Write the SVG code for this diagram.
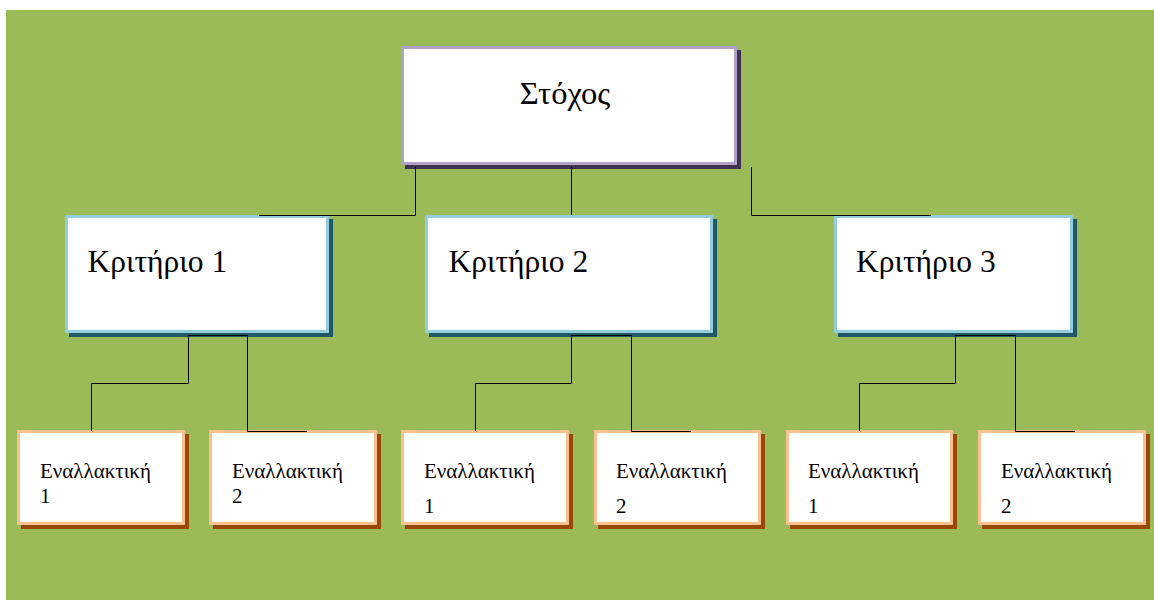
<svg xmlns="http://www.w3.org/2000/svg" width="1154" height="600" viewBox="0 0 1154 600">
<style>
.bg{fill:#9BBB59}
.box{fill:#FFFFFF;stroke-width:3}
.goal{stroke:#B2A1C7}
.goal-sh{fill:#3F3151}
.crit{stroke:#92CDDC}
.crit-sh{fill:#215868}
.alt{stroke:#FAC090}
.alt-sh{fill:#984807}
.big{font-size:31.5px}
.title{font-size:32.5px}
.small{font-size:21px}
.conn path{fill:none;stroke:#000000;stroke-width:1}
</style>
<rect x="0" y="0" width="1154" height="600" fill="#FFFFFF"/>
<rect class="bg" x="6" y="10" width="1148" height="590"/>

<g font-family="Liberation Serif, DejaVu Serif, serif" fill="#000000">
<g id="goal">
<rect class="goal-sh" x="405" y="50" width="336" height="119"/>
<rect class="box goal" x="402.5" y="47.5" width="333" height="116"/>
<text class="title" x="565" y="104" text-anchor="middle">Στόχος</text>
</g>

<g id="crit1">
<rect class="crit-sh" x="69" y="219" width="264" height="118"/>
<rect class="box crit" x="66.5" y="216.5" width="261" height="115"/>
<text class="big" x="87.5" y="272">Κριτήριο 1</text>
</g>
<g id="crit2">
<rect class="crit-sh" x="429" y="219" width="288" height="118"/>
<rect class="box crit" x="426.5" y="216.5" width="285" height="115"/>
<text class="big" x="448.5" y="272">Κριτήριο 2</text>
</g>
<g id="crit3">
<rect class="crit-sh" x="838" y="219" width="239" height="118"/>
<rect class="box crit" x="835.5" y="216.5" width="236" height="115"/>
<text class="big" x="856" y="272">Κριτήριο 3</text>
</g>

<g id="alt1-1">
<rect class="alt-sh" x="21" y="434" width="168" height="95"/>
<rect class="box alt" x="18.5" y="431.5" width="165" height="92"/>
<text class="small" x="40" y="478">Εναλλακτική</text>
<text class="small" x="40" y="503">1</text>
</g>
<g id="alt1-2">
<rect class="alt-sh" x="213" y="434" width="168" height="95"/>
<rect class="box alt" x="210.5" y="431.5" width="165" height="92"/>
<text class="small" x="232" y="478">Εναλλακτική</text>
<text class="small" x="232" y="503">2</text>
</g>
<g id="alt2-1">
<rect class="alt-sh" x="405" y="434" width="168" height="95"/>
<rect class="box alt" x="402.5" y="431.5" width="165" height="92"/>
<text class="small" x="424" y="478">Εναλλακτική</text>
<text class="small" x="424" y="513">1</text>
</g>
<g id="alt2-2">
<rect class="alt-sh" x="598" y="434" width="167" height="95"/>
<rect class="box alt" x="595.5" y="431.5" width="164" height="92"/>
<text class="small" x="616" y="478">Εναλλακτική</text>
<text class="small" x="616" y="513">2</text>
</g>
<g id="alt3-1">
<rect class="alt-sh" x="790" y="434" width="167" height="95"/>
<rect class="box alt" x="787.5" y="431.5" width="164" height="92"/>
<text class="small" x="808" y="478">Εναλλακτική</text>
<text class="small" x="808" y="513">1</text>
</g>
<g id="alt3-2">
<rect class="alt-sh" x="982" y="434" width="168" height="95"/>
<rect class="box alt" x="979.5" y="431.5" width="165" height="92"/>
<text class="small" x="1001" y="478">Εναλλακτική</text>
<text class="small" x="1001" y="513">2</text>
</g>
</g>

<g id="connectors" class="conn">
<path d="M415.5 167 V215.5 H259"/>
<path d="M571.5 167 V215"/>
<path d="M751.5 167 V215.5 H931"/>
<path d="M188 335.5 H247.5"/>
<path d="M188.5 335.5 V383.5 H91.5 V431"/>
<path d="M247.5 335.5 V431.5 H307"/>
<path d="M571 335.5 H631.5"/>
<path d="M571.5 335.5 V383.5 H475.5 V431"/>
<path d="M631.5 335.5 V431.5 H691"/>
<path d="M955 335.5 H1015.5"/>
<path d="M955.5 335.5 V383.5 H859.5 V431"/>
<path d="M1015.5 335.5 V431.5 H1075"/>
</g>
</svg>
